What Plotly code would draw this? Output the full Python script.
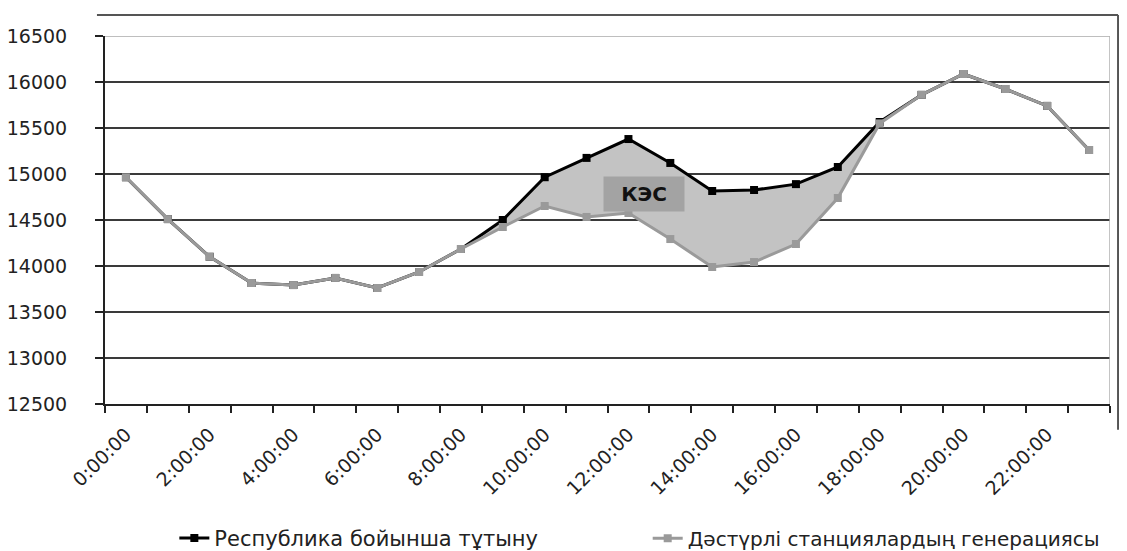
import plotly.graph_objects as go

# ---- data -------------------------------------------------------------
hours = list(range(24))
hour_labels = [f"{h}:00:00" for h in hours]
consumption = [14965, 14510, 14100, 13815, 13793, 13870, 13761, 13935, 14185,
               14500, 14965, 15175, 15380, 15120, 14815, 14826, 14890, 15076,
               15565, 15860, 16087, 15924, 15740, 15261]
generation = [14965, 14510, 14100, 13815, 13793, 13870, 13761, 13935, 14185,
              14424, 14652, 14533, 14576, 14293, 13989, 14043, 14239, 14739,
              15550, 15860, 16087, 15924, 15740, 15261]
y_ticks = [12500, 13000, 13500, 14000, 14500, 15000, 15500, 16000, 16500]
label_hours = hours[::2]
series_names = ["Республика бойынша тұтыну", "Дәстүрлі станциялардың генерациясы"]
area_label = "КЭС"

FONT = "DejaVu Sans"
BLACK = "#000000"
GREY = "#9a9a9a"
FILL = "#c3c3c3"
TXT = "#222222"

fig = go.Figure()

# filled band between the two series
fig.add_trace(go.Scatter(x=hours, y=generation, mode="lines",
                         line=dict(width=0, color=FILL), showlegend=False,
                         hoverinfo="skip"))
fig.add_trace(go.Scatter(x=hours, y=consumption, mode="lines",
                         line=dict(width=0, color=FILL), fill="tonexty",
                         fillcolor=FILL, showlegend=False, hoverinfo="skip"))

# lines
fig.add_trace(go.Scatter(x=hours, y=consumption, mode="lines+markers",
                         name=series_names[0],
                         line=dict(color=BLACK, width=3),
                         marker=dict(symbol="square", size=8, color=BLACK),
                         legend="legend"))
fig.add_trace(go.Scatter(x=hours, y=generation, mode="lines+markers",
                         name=series_names[1],
                         line=dict(color=GREY, width=3),
                         marker=dict(symbol="square", size=8, color=GREY),
                         legend="legend2"))

fig.add_annotation(x=12.37, y=14783, xref="x", yref="y", text=f"<b>{area_label}</b>",
                   showarrow=False, bgcolor="#a3a3a3", borderpad=4,
                   font=dict(family=FONT, size=20, color="#111"), width=72, height=26)

# plot-area border (light) and outer chart frame
fig.add_shape(type="line", xref="x", yref="y", x0=-0.5, x1=23.5, y0=16500, y1=16500,
              line=dict(color="#a8a8a8", width=1.5), layer="above")
fig.add_shape(type="line", xref="x", yref="y", x0=23.5, x1=23.5, y0=12500, y1=16500,
              line=dict(color="#b0b0b0", width=1.5), layer="above")
fig.add_shape(type="line", xref="paper", yref="paper", x0=-0.008, x1=1.008,
              y0=1.057, y1=1.057, line=dict(color="#555", width=2))
fig.add_shape(type="line", xref="paper", yref="paper", x0=1.008, x1=1.008,
              y0=1.057, y1=-0.07, line=dict(color="#555", width=2))

# page body has an 8px margin: compensate so the plot area lands at 105..1110 x 36..404
fig.update_layout(
    width=1127, height=551,
    margin=dict(l=97, r=25, t=28, b=155, autoexpand=False),
    paper_bgcolor="white", plot_bgcolor="white",
    font=dict(family=FONT, size=19, color=TXT),
    legend=dict(orientation="h", x=0.069, y=-0.365, xanchor="left", yanchor="middle",
                font=dict(family=FONT, size=21, color=TXT), bgcolor="rgba(0,0,0,0)"),
    legend2=dict(orientation="h", x=0.540, y=-0.365, xanchor="left", yanchor="middle",
                 font=dict(family=FONT, size=20, color=TXT), bgcolor="rgba(0,0,0,0)"),
)

fig.update_xaxes(range=[-0.5, 23.5], tickmode="array", tickvals=label_hours,
                 ticktext=[hour_labels[h] for h in label_hours], tickangle=-45,
                 ticks="", showline=True, linecolor=TXT, linewidth=2,
                 showgrid=False, zeroline=False, ticklabelstandoff=10,
                 tickfont=dict(family=FONT, size=19, color=TXT),
                 minor=dict(tickmode="array", tickvals=[h - 0.5 for h in hours] + [23.5],
                            ticks="outside", ticklen=7, tickwidth=2, tickcolor=TXT,
                            showgrid=False))
fig.update_yaxes(range=[12500, 16500], tickmode="array", tickvals=y_ticks,
                 ticktext=[str(v) for v in y_ticks],
                 ticks="outside", ticklen=8, tickwidth=2, tickcolor=TXT,
                 showline=True, linecolor=TXT, linewidth=2,
                 showgrid=True, gridcolor="#3a3a3a", gridwidth=1.5, zeroline=False,
                 ticklabelstandoff=24,
                 tickfont=dict(family=FONT, size=19, color=TXT))

fig.write_html("out.html")
